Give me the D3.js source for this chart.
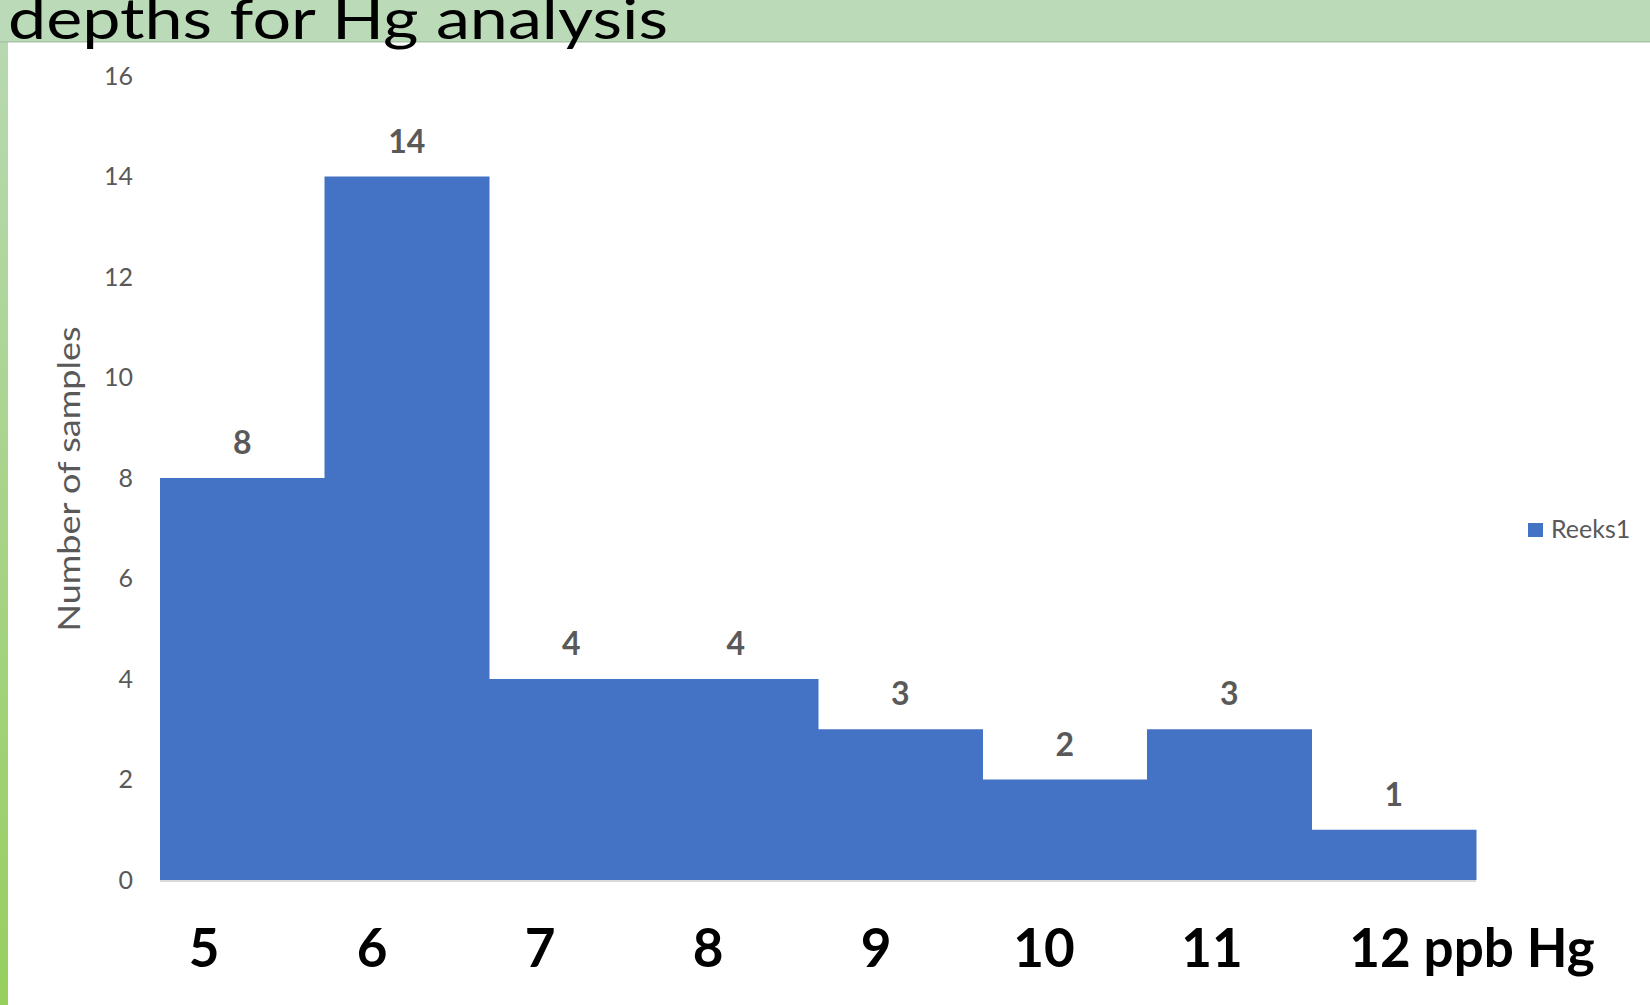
<!DOCTYPE html>
<html lang="en">
<head>
    <meta charset="UTF-8">
    <script src="https://d3js.org/d3.v7.min.js"></script>
    <title>Hg histogram</title>
    <style>
        body { margin: 0; background: #fff; }
        text { font-family: Lato, 'Open Sans', sans-serif; }
    </style>
</head>
<body>
<script>
    const width = 1650, height = 1005;

    // data
    const categories = ["5", "6", "7", "8", "9", "10", "11", "12"];
    const values = [8, 14, 4, 4, 3, 2, 3, 1];
    const yTicks = [0, 2, 4, 6, 8, 10, 12, 14, 16];
    const axisLabels = ["5", "6", "7", "8", "9", "10", "11", "12"];
    const unitText = " ppb Hg";
    const seriesName = "Reeks1";
    const title = "depths for Hg analysis";
    const yTitle = "Number of samples";

    const svg = d3.select("body").append("svg")
            .attr("width", width).attr("height", height);

    // slide frame: green banner on top, gradient strip on the left
    const grad = svg.append("defs").append("linearGradient")
            .attr("id", "strip").attr("x1", 0).attr("y1", 0).attr("x2", 0).attr("y2", 1);
    grad.append("stop").attr("offset", "0%").attr("stop-color", "#b9d9b4");
    grad.append("stop").attr("offset", "100%").attr("stop-color", "#97cf5f");

    svg.append("rect").attr("x", 0).attr("y", 0).attr("width", 8).attr("height", height)
            .attr("fill", "url(#strip)");
    svg.append("rect").attr("x", 0).attr("y", 0).attr("width", width).attr("height", 41)
            .attr("fill", "#bbdab8");
    svg.append("rect").attr("x", 0).attr("y", 41).attr("width", width).attr("height", 1.5)
            .attr("fill", "#a9c4a6");

    // slide title, its top is cut by the slide edge like in the original
    svg.append("text")
            .attr("x", 8).attr("y", 39)
            .attr("font-size", 56)
            .attr("textLength", 660).attr("lengthAdjust", "spacingAndGlyphs")
            .attr("fill", "#000")
            .text(title);

    // scales
    const x = d3.scaleBand().domain(categories).range([160, 1476]).padding(0);
    const y = d3.scaleLinear().domain([0, 16]).range([880, 76]);

    // bars
    svg.append("g").selectAll("rect")
            .data(values)
            .join("rect")
            .attr("x", (d, i) => x(categories[i]))
            .attr("y", d => y(d))
            .attr("width", x.bandwidth() + 0.5)
            .attr("height", d => y(0) - y(d))
            .attr("fill", "#4472c4");

    // baseline
    svg.append("line")
            .attr("x1", x.range()[0]).attr("x2", x.range()[1])
            .attr("y1", y(0) + 1).attr("y2", y(0) + 1)
            .attr("stroke", "#d9d9d9").attr("stroke-width", 2);

    // data labels
    svg.append("g").selectAll("text")
            .data(values)
            .join("text")
            .attr("x", (d, i) => x(categories[i]) + x.bandwidth() / 2)
            .attr("y", d => y(d) - 24)
            .attr("text-anchor", "middle")
            .attr("font-size", 32).attr("font-weight", "bold")
            .attr("fill", "#595959")
            .text(d => d);

    // y axis (labels only)
    const yAxis = svg.append("g")
            .attr("transform", "translate(133,0)")
            .call(d3.axisLeft(y).tickValues(yTicks).tickSize(0).tickPadding(0));
    yAxis.select(".domain").remove();
    yAxis.selectAll("text")
            .attr("font-size", 25)
            .attr("font-family", "Lato, sans-serif")
            .attr("fill", "#595959");

    svg.append("text")
            .attr("transform", "translate(80,479) rotate(-90)")
            .attr("text-anchor", "middle")
            .attr("font-size", 30)
            .attr("textLength", 305).attr("lengthAdjust", "spacingAndGlyphs")
            .attr("fill", "#595959")
            .text(yTitle);

    // category labels typed in a separate row under the chart
    const lx = d3.scalePoint().domain(axisLabels).range([204, 1380]);
    const xl = svg.append("g").selectAll("text")
            .data(axisLabels)
            .join("text")
            .attr("x", d => lx(d))
            .attr("y", 967)
            .attr("text-anchor", "middle")
            .attr("font-size", 53).attr("font-weight", "bold")
            .attr("fill", "#000")
            .text(d => d);
    // unit after the last label
    const last = xl.filter((d, i) => i === axisLabels.length - 1);
    const lastW = last.node().getComputedTextLength();
    last.attr("text-anchor", "start").attr("x", lx(axisLabels[axisLabels.length - 1]) - lastW / 2)
            .append("tspan").text(unitText);

    // legend
    const legend = svg.append("g").attr("transform", "translate(1528,523)");
    legend.append("rect").attr("width", 15).attr("height", 14).attr("fill", "#4472c4");
    legend.append("text")
            .attr("x", 23).attr("y", 15)
            .attr("font-size", 25)
            .attr("fill", "#595959")
            .text(seriesName);
</script>
</body>
</html>
